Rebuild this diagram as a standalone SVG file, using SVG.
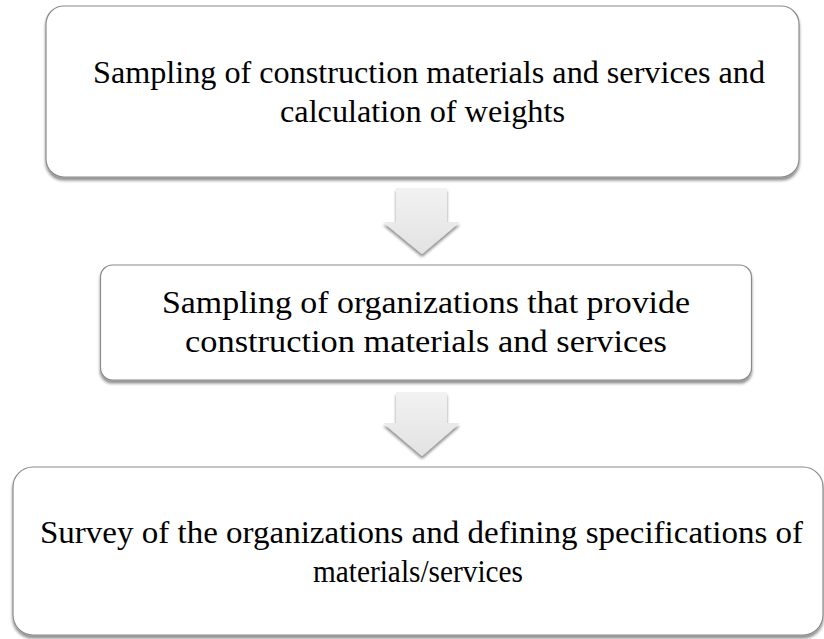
<svg xmlns="http://www.w3.org/2000/svg" width="824" height="639" viewBox="0 0 824 639">
  <defs>
    <filter id="sh" x="-5%" y="-10%" width="110%" height="125%">
      <feGaussianBlur in="SourceAlpha" stdDeviation="1.5"/>
      <feOffset dx="0" dy="2.5" result="b"/>
      <feComponentTransfer><feFuncA type="linear" slope="0.45"/></feComponentTransfer>
      <feMerge><feMergeNode/><feMergeNode in="SourceGraphic"/></feMerge>
    </filter>
    <linearGradient id="ag" x1="0" y1="0" x2="0" y2="1">
      <stop offset="0" stop-color="#f2f2f2"/>
      <stop offset="1" stop-color="#e2e2e2"/>
    </linearGradient>
    <style>
      .box { fill: #ffffff; stroke: #8a8a8a; stroke-width: 1.2; }
      .arrow { fill: url(#ag); stroke: none; }
      .t { font-family: "Liberation Serif", "DejaVu Serif", serif; font-size: 31px; fill: #000; text-anchor: middle; }
    </style>
  </defs>
  <rect width="824" height="639" fill="#ffffff"/>
  <g id="connectors">
    <path class="arrow" filter="url(#sh)" d="M396,188 H447 V222 H460 L422,254 L383,222 H396 Z"/>
    <path class="arrow" filter="url(#sh)" d="M396,392 H447 V423 H460 L422,456 L383,423 H396 Z"/>
  </g>
  <g id="node1">
    <rect class="box" filter="url(#sh)" x="46" y="6" width="753" height="171" rx="18"/>
    <text class="t" x="429" y="83" textLength="672" lengthAdjust="spacingAndGlyphs">Sampling of construction materials and services and</text>
    <text class="t" x="422.5" y="122" textLength="285" lengthAdjust="spacingAndGlyphs">calculation of weights</text>
  </g>
  <g id="node2">
    <rect class="box" filter="url(#sh)" x="100.5" y="265" width="651" height="115" rx="12"/>
    <text class="t" x="426" y="313" textLength="528" lengthAdjust="spacingAndGlyphs">Sampling of organizations that provide</text>
    <text class="t" x="426" y="352" textLength="482" lengthAdjust="spacingAndGlyphs">construction materials and services</text>
  </g>
  <g id="node3">
    <rect class="box" filter="url(#sh)" x="13" y="467" width="810" height="168" rx="20"/>
    <text class="t" x="421.5" y="543" textLength="763" lengthAdjust="spacingAndGlyphs">Survey of the organizations and defining specifications of</text>
    <text class="t" x="418" y="582" textLength="210" lengthAdjust="spacingAndGlyphs">materials/services</text>
  </g>
</svg>
